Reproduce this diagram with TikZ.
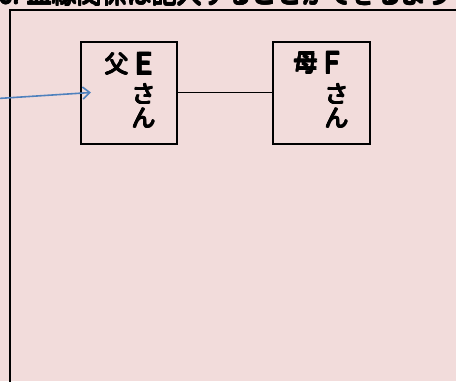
\documentclass[tikz,border=0pt]{standalone}
\usepackage{fontspec}
\newfontfamily\cjk{Noto Sans CJK JP}
\usetikzlibrary{arrows.meta}
\definecolor{bgpink}{HTML}{F2DCDB}
\definecolor{arrowblue}{HTML}{4F81BD}
\newcommand\heavytext[1]{%
  \makebox[0pt][l]{\hspace{1.3pt}#1}%
  \makebox[0pt][l]{\raisebox{1.3pt}{#1}}%
  \makebox[0pt][l]{\hspace{1.3pt}\raisebox{1.3pt}{#1}}%
  \makebox[0pt][l]{\hspace{0.65pt}\raisebox{0.65pt}{#1}}%
  \makebox[0pt][l]{\hspace{0.65pt}#1}%
  \makebox[0pt][l]{\raisebox{0.65pt}{#1}}%
  #1}
\tikzset{
  x=1pt, y=-1pt,
  person/.style={draw=black, line width=1.4pt},
  glyph/.style={inner sep=0pt, font=\cjk\fontsize{24}{24}\selectfont},
  latin/.style={inner sep=0pt, font=\cjk\fontsize{29}{29}\selectfont},
  link/.style={draw=black, line width=1.4pt},
  pointer/.style={draw=arrowblue, line width=1.6pt, -{Straight Barb[length=7pt,width=12pt,line width=1.6pt]}}
}
\begin{document}
\begin{tikzpicture}
\useasboundingbox (0,0) rectangle (456,381);
\fill[bgpink] (0,0) rectangle (456,381);
% partially visible heading (cut off at top)
\begin{scope}
\clip (0,0) rectangle (456,7);
\node[anchor=base west, inner sep=0pt, font=\cjk\fontsize{25}{25}\selectfont] (head) at (-2,4) {\heavytext{6. 血縁関係は記入することができるよう}};
\end{scope}
% big frame
\draw[line width=2pt] (9.5,400) -- (9.5,9.5) -- (470,9.5);
% boxes
\node[person, minimum width=96pt, minimum height=102pt, inner sep=0pt] (f) at (129,93) {};
\node[person, minimum width=97pt, minimum height=102pt, inner sep=0pt] (m) at (321.5,93) {};
% texts
\node[glyph] (f1) at (116,64) {\heavytext{父}};
\node[latin] (f2) at (143.5,64) {\heavytext{E}};
\node[glyph] (f3) at (143,94) {\heavytext{さ}};
\node[glyph] (f4) at (143,118) {\heavytext{ん}};
\node[glyph] (m1) at (305,63) {\heavytext{母}};
\node[latin] (m2) at (331.5,63) {\heavytext{F}};
\node[glyph] (m3) at (336,94) {\heavytext{さ}};
\node[glyph] (m4) at (336,118) {\heavytext{ん}};
% connector
\draw[link] (f.east |- 0,92.5) -- (m.west |- 0,92.5);
% blue arrow
\coordinate (src) at (-2,98.5);
\coordinate (tip) at (91,92.5);
\draw[pointer] (src) -- (tip);
\end{tikzpicture}
\end{document}
